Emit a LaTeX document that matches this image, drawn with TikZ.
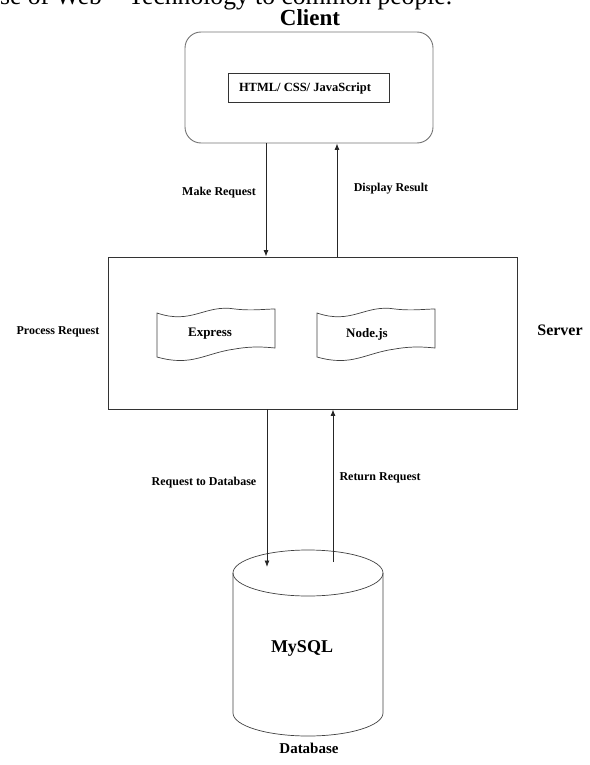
\documentclass[tikz,border=0pt]{standalone}
\usepackage{fontspec}
\setmainfont{Liberation Serif}
\usetikzlibrary{arrows.meta}
\newcommand{\wavyshape}[2]{%
  \begin{scope}[shift={(#1,#2)}]
  \draw[shape line] (0,0) .. controls (35,12) and (48,-9) .. (78,-4)
     .. controls (95,-2) and (108,-4) .. (118,-4)
     -- (118,35)
     .. controls (108,34) and (95,33) .. (78,36)
     .. controls (48,40) and (35,54) .. (0,44) -- cycle;
  \end{scope}}
\begin{document}
\begin{tikzpicture}[x=1pt,y=-1pt,
  lbl/.style={font=\bfseries\fontsize{12}{14}\selectfont, inner sep=0pt},
  arr/.style={-{Latex[length=6.5pt,width=5pt]}, line width=0.8pt, draw=black!85},
  shape line/.style={line width=0.7pt, draw=black!75},
  boxline/.style={line width=0.9pt, draw=black!80}]
\useasboundingbox (0,0) rectangle (589,765);
\begin{scope}
\clip (0,0) rectangle (589,765);
\node[anchor=base west, inner sep=0pt, font=\fontsize{25.6}{30}\selectfont] (toptext) at (0,5)
  {se of Web\hspace{20pt} Technology to common people.};
\end{scope}
% client
\node[anchor=base, inner sep=0pt, font=\bfseries\fontsize{23}{26}\selectfont] (clienttitle) at (310,26) {Client};
\node[draw=black!55, line width=0.9pt, rounded corners=16pt, minimum width=248pt, minimum height=111pt, inner sep=0pt] (client) at (309,87.5) {};
\node[boxline, minimum width=161pt, minimum height=29pt, inner sep=0pt] (htmlbox) at (308.5,87.5) {};
\node[lbl, font=\bfseries\fontsize{12.5}{14}\selectfont] (html) at (305,88) {HTML/ CSS/ JavaScript};
% server
\node[boxline, minimum width=409pt, minimum height=152pt, inner sep=0pt] (server) at (312.5,333) {};
\wavyshape{157}{313}
\wavyshape{317}{313}
\node[lbl, font=\bfseries\fontsize{13}{15}\selectfont] (express) at (210,334) {Express};
\node[lbl, font=\bfseries\fontsize{13}{15}\selectfont] (nodejs) at (367,334) {Node.js};
\node[lbl, font=\bfseries\fontsize{16}{18}\selectfont] (serverlbl) at (560,330) {Server};
\node[lbl] (process) at (58,332) {Process Request};
% client <-> server
\coordinate (req) at (266,0);
\coordinate (res) at (337,0);
\draw[arr] (client.south -| req) -- (server.north -| req);
\draw[arr] (server.north -| res) -- (client.south -| res);
\node[lbl] (make) at (219,193) {Make Request};
\node[lbl] (display) at (391,189) {Display Result};
% database
\draw[line width=0.7pt, draw=black!75] (233,573) -- (233,713) arc[start angle=180, end angle=0, x radius=75, y radius=23] -- (383,573);
\draw[line width=0.7pt, draw=black!75] (308,573) ellipse [x radius=75, y radius=23];
\node[inner sep=0pt, font=\bfseries\fontsize{18}{20}\selectfont] (mysql) at (302,648) {MySQL};
\node[inner sep=0pt, font=\bfseries\fontsize{15}{17}\selectfont] (dblbl) at (309,748) {Database};
\coordinate (dbin) at (267,567);
\coordinate (dbout) at (333,562);
\draw[arr] (server.south -| dbin) -- (dbin);
\draw[arr] (dbout) -- (server.south -| dbout);
\node[lbl] (reqdb) at (204,483) {Request to Database};
\node[lbl] (ret) at (380,478) {Return Request};
\end{tikzpicture}
\end{document}
